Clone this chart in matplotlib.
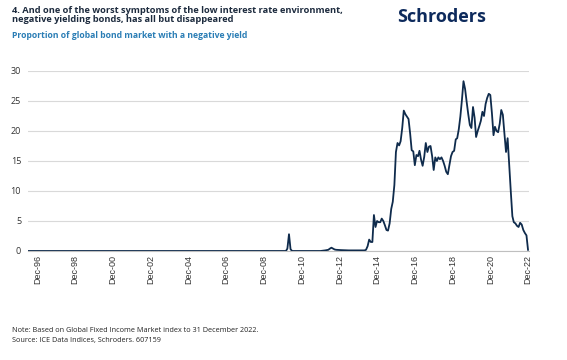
import matplotlib
matplotlib.use("Agg")
import matplotlib.pyplot as plt
import pandas as pd

plt.rcParams['font.family'] = ['Open Sans', 'DejaVu Sans']

# --- data: proportion of global bond market with negative yield (%) ---
dates = ["1996-06", "1996-12", "2010-01", "2010-02", "2010-03", "2010-04", "2010-05", "2010-06",
         "2011-12", "2012-03", "2012-05", "2012-06", "2012-07", "2012-08", "2012-09",
         "2012-10", "2013-01", "2013-06", "2013-12",
         "2014-01", "2014-02", "2014-03", "2014-04", "2014-05", "2014-06", "2014-07",
         "2014-08", "2014-09", "2014-10", "2014-11", "2014-12",
         "2015-01", "2015-02", "2015-03", "2015-04", "2015-05", "2015-06", "2015-07",
         "2015-08", "2015-09", "2015-10", "2015-11", "2015-12",
         "2016-01", "2016-02", "2016-03", "2016-04", "2016-05", "2016-06", "2016-07",
         "2016-08", "2016-09", "2016-10", "2016-11", "2016-12",
         "2017-01", "2017-02", "2017-03", "2017-04", "2017-05", "2017-06", "2017-07",
         "2017-08", "2017-09", "2017-10", "2017-11", "2017-12",
         "2018-01", "2018-02", "2018-03", "2018-04", "2018-05", "2018-06", "2018-07",
         "2018-08", "2018-09", "2018-10", "2018-11", "2018-12",
         "2019-01", "2019-02", "2019-03", "2019-04", "2019-05", "2019-06", "2019-07",
         "2019-08", "2019-09", "2019-10", "2019-11", "2019-12",
         "2020-01", "2020-02", "2020-03", "2020-04", "2020-05", "2020-06", "2020-07",
         "2020-08", "2020-09", "2020-10", "2020-11", "2020-12",
         "2021-01", "2021-02", "2021-03", "2021-04", "2021-05", "2021-06", "2021-07",
         "2021-08", "2021-09", "2021-10", "2021-11", "2021-12",
         "2022-01", "2022-02", "2022-03", "2022-04", "2022-05", "2022-06", "2022-07",
         "2022-08", "2022-09", "2022-10", "2022-11", "2022-12"]
values = [0.0, 0.0, 0.0, 0.0, 0.4, 2.8, 0.3, 0.0,
          0.0, 0.1, 0.2, 0.4, 0.55, 0.4, 0.25,
          0.2, 0.15, 0.1, 0.1,
          0.1, 0.1, 0.1, 0.1, 0.2, 0.8, 1.9,
          1.5, 1.5, 6.0, 4.0, 5.0,
          4.8, 4.8, 5.4, 5.0, 4.3, 3.5, 3.4,
          4.6, 7.0, 8.2, 11.0, 16.5,
          18.0, 17.6, 18.3, 20.5, 23.4, 22.8, 22.4,
          22.0, 19.6, 16.8, 16.6, 14.3,
          16.0, 15.8, 16.7, 15.2, 14.2, 15.7, 18.0,
          16.5, 17.4, 17.5, 15.8, 13.5,
          15.6, 15.0, 15.6, 15.3, 15.6, 15.0, 14.2,
          13.2, 12.8, 14.3, 15.8, 16.5,
          16.7, 18.6, 18.8, 20.3, 22.4, 25.2, 28.3,
          27.0, 24.8, 22.8, 21.0, 20.5,
          24.0, 22.2, 19.0, 20.0, 20.8, 21.7, 23.2,
          22.5, 24.5, 25.5, 26.2, 26.0,
          23.0, 19.3, 20.7, 20.0, 19.8, 21.2, 23.5,
          22.7, 19.5, 16.5, 18.8, 14.5,
          10.0, 5.8, 4.8, 4.6, 4.2, 4.0, 4.7,
          4.4, 3.5, 3.0, 2.6, 0.2]

tick_years = list(range(1996, 2023, 2))
y_ticks = [0, 5, 10, 15, 20, 25, 30]

title = ("4. And one of the worst symptoms of the low interest rate environment,\n"
         "negative yielding bonds, has all but disappeared")
subtitle = "Proportion of global bond market with a negative yield"
note = "Note: Based on Global Fixed Income Market index to 31 December 2022."
source = "Source: ICE Data Indices, Schroders. 607159"

navy = "#0f2b4c"
fig = plt.figure(figsize=(5.67, 3.6), dpi=100)
ax = fig.add_axes([28 / 567, 1 - 251 / 360, (529 - 28) / 567, 180 / 360])

x = pd.to_datetime(dates)
ax.plot(x, values, color=navy, lw=1.3, solid_joinstyle='round', zorder=3)

ax.set_ylim(0, 30)
ax.set_xlim(pd.Timestamp("1996-06-01"), pd.Timestamp("2022-12-20"))
ax.set_yticks(y_ticks)
ax.yaxis.grid(True, color="#d9d9d9", lw=0.8)
ax.set_axisbelow(True)
ticks = [pd.Timestamp(f"{y}-12-01") for y in tick_years]
ax.set_xticks(ticks)
ax.set_xticklabels([f"Dec-{str(y)[2:]}" for y in tick_years], rotation=90,
                   family=['Liberation Sans', 'DejaVu Sans'])
for s in ["top", "right", "left"]:
    ax.spines[s].set_visible(False)
ax.spines["bottom"].set_color("#bfbfbf")
ax.tick_params(axis='both', length=0, labelsize=6.5, labelcolor="#333333")
ax.tick_params(axis='x', pad=3)
ax.tick_params(axis='y', pad=5)

fig.text(12 / 567, 1 - 6 / 360, title, ha='left', va='top', fontsize=6.7,
         fontweight='bold', color="#1d2b3e", linespacing=1.0)
fig.text(12 / 567, 1 - 35 / 360, subtitle, ha='left', va='center', fontsize=6.2,
         fontweight='bold', color="#2a7db5")
fig.text(397 / 567, 1 - 17 / 360, "Schroders", ha='left', va='center', fontsize=13,
         fontweight='bold', color="#0d2a5c")
fig.text(12 / 567, 1 - 330.5 / 360, note, ha='left', va='center', fontsize=5.2,
         color="#222222")
fig.text(12 / 567, 1 - 340.5 / 360, source, ha='left', va='center', fontsize=5.2,
         color="#222222")

fig.savefig("out.png", dpi=100)
